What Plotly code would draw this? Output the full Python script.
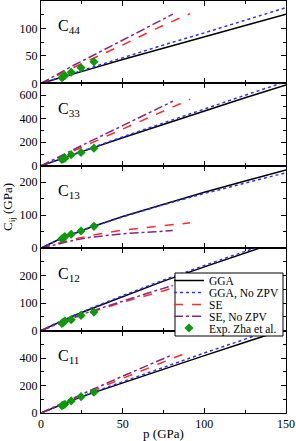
import plotly.graph_objects as go
from plotly.subplots import make_subplots

# ---- data ----
p_gga = [0, 10, 20, 30, 50, 75, 100, 125, 150]
p_se = [0, 10, 20, 30, 50, 75, 91.3]
p_se_nozpv = [0, 10, 20, 30, 50, 70, 80.7]
p_exp = [12.8, 13.6, 14.6, 18.5, 24.5, 32.4]

labels = ["C<sub>44</sub>", "C<sub>33</sub>", "C<sub>13</sub>", "C<sub>12</sub>", "C<sub>11</sub>"]

gga = {
    "C44": [0, 9, 17.5, 26, 43.5, 64.5, 85, 105.5, 126],
    "C33": [0, 49, 97, 144, 238, 352, 468, 578, 687],
    "C13": [0, 24, 44, 63, 96, 134, 170, 204, 237],
    "C12": [0, 28, 54, 78, 124, 180, 232, 283, 333],
    "C11": [0, 50, 96, 139, 220, 320, 418, 515, 612],
}
gga_nozpv = {
    "C44": [0, 9.5, 19, 28, 47, 70, 92, 115, 138],
    "C33": [0, 50, 100, 149, 246, 364, 484, 600, 715],
    "C13": [0, 24, 44, 63, 95, 132, 166, 198, 229],
    "C12": [0, 29, 55, 80, 127, 184, 237, 289, 340],
    "C11": [0, 51, 99, 144, 229, 334, 437, 538, 638],
}
se = {
    "C44": [0, 15, 29, 43, 70, 106, 127],
    "C33": [0, 64, 127, 189, 312, 466, 565],
    "C13": [0, 15, 27, 38, 55, 69, 77],
    "C12": [0, 24, 46, 66, 103, 145, 175],
    "C11": [0, 52, 103, 153, 252, 373, 449],
}
se_nozpv = {
    "C44": [0, 17, 33, 48, 79, 110, 126],
    "C33": [0, 70, 139, 207, 341, 474, 548],
    "C13": [0, 13, 24, 33, 44, 50, 54],
    "C12": [0, 25, 48, 69, 108, 145, 164],
    "C11": [0, 56, 110, 163, 268, 370, 425],
}
exp = {
    "C44": [10.3, 12, 14.4, 20.4, 28.3, 39.2],
    "C33": [54, 58, 65, 94, 113, 150],
    "C13": [28.3, 31, 35.2, 42.2, 52.4, 66.3],
    "C12": [26.4, 30, 34.7, 39.8, 55.3, 67.3],
    "C11": [53, 58, 64, 88, 119, 152],
}
keys = ["C44", "C33", "C13", "C12", "C11"]
y_ranges = [[0, 150], [0, 700], [0, 250], [0, 300], [0, 600]]
y_ticks = [[0, 50, 100], [0, 200, 400, 600], [0, 100, 200], [0, 100, 200], [0, 200, 400]]
y_minor = [25, 100, 50, 50, 100]
x_ticks = [0, 50, 100, 150]

FONT = "Liberation Serif"
W, H = 296, 441
ML, MR, MT, MB = 41, 10, 1, 28
PW, PH = W - ML - MR, H - MT - MB


def px_to_paper_y(py):
    return 1 - (py - MT) / PH


def px_to_paper_x(px):
    return (px - ML) / PW


fig = make_subplots(rows=5, cols=1, shared_xaxes=True, vertical_spacing=0)

series = [
    ("GGA", p_gga, gga, dict(color="black", width=1.5), "legend"),
    ("GGA, No ZPV", p_gga, gga_nozpv, dict(color="#3030ff", width=1.5, dash="dot"), "legend2"),
    ("SE", p_se, se, dict(color="#ff2a2a", width=1.5, dash="dash"), "legend3"),
    ("SE, No ZPV", p_se_nozpv, se_nozpv, dict(color="#852585", width=1.5, dash="dashdot"), "legend4"),
]

for i, k in enumerate(keys):
    r = i + 1
    show = (i == 0)
    for name, xs, d, ln, lg in series:
        fig.add_trace(go.Scatter(x=xs, y=d[k], mode="lines", name=name, line=ln,
                                 showlegend=show, legend=lg), row=r, col=1)
    fig.add_trace(go.Scatter(x=p_exp, y=exp[k], mode="markers", name="Exp. Zha et al.",
                             marker=dict(color="#0a9a0a", symbol="diamond", size=7),
                             showlegend=show, legend="legend5"), row=r, col=1)

    fig.update_yaxes(row=r, col=1, range=y_ranges[i], tickvals=y_ticks[i], automargin=False,
                     ticks="inside", ticklen=5, tickwidth=1, tickcolor="black",
                     showline=True, linecolor="black", linewidth=1, mirror="ticks",
                     showgrid=False, zeroline=False,
                     minor=dict(ticks="inside", ticklen=3, dtick=y_minor[i], tick0=0, tickcolor="black", showgrid=False),
                     tickfont=dict(family=FONT, size=12, color="black"))
    fig.update_xaxes(row=r, col=1, range=[0, 150], tickvals=x_ticks, automargin=False,
                     ticks="inside", ticklen=5, tickwidth=1, tickcolor="black",
                     showline=True, linecolor="black", linewidth=1, mirror="ticks",
                     showgrid=False, zeroline=False,
                     minor=dict(ticks="inside", ticklen=3, dtick=25, tick0=0, tickcolor="black", showgrid=False),
                     tickfont=dict(family=FONT, size=12, color="black"))
    dom = fig.layout["yaxis" + ("" if r == 1 else str(r))].domain
    fig.add_annotation(text=labels[i], xref="paper", yref="paper", x=0.06, y=dom[1] - 0.035,
                       xanchor="left", yanchor="top", showarrow=False,
                       font=dict(family=FONT, size=16, color="black"))

fig.update_xaxes(row=5, col=1, title=dict(text="p (GPa)", font=dict(family=FONT, size=13, color="black"), standoff=1))
fig.update_yaxes(row=3, col=1, title=dict(text="C<sub>ij</sub> (GPa)", font=dict(family=FONT, size=13, color="black"), standoff=5))

# legend box
box_l, box_r, box_t, box_b = 175, 283, 273, 336
fig.add_shape(type="rect", xref="paper", yref="paper", layer="above",
              x0=px_to_paper_x(box_l), x1=px_to_paper_x(box_r),
              y0=px_to_paper_y(box_b), y1=px_to_paper_y(box_t),
              fillcolor="white", line=dict(color="black", width=1))

item_centers = [280.5, 292.5, 304.5, 316.3, 328]
legend_x = px_to_paper_x(169)
leg_common = dict(xanchor="left", yanchor="middle", bgcolor="rgba(0,0,0,0)", borderwidth=0,
                  font=dict(family=FONT, size=11.5, color="black"), itemwidth=30)
lay = {}
for j, lg in enumerate(["legend", "legend2", "legend3", "legend4", "legend5"]):
    lay[lg] = dict(x=legend_x, y=px_to_paper_y(item_centers[j]), **leg_common)

fig.update_layout(
    width=W, height=H,
    margin=dict(l=ML, r=MR, t=MT, b=MB, autoexpand=False),
    paper_bgcolor="white", plot_bgcolor="white",
    font=dict(family=FONT, size=12, color="black"),
    **lay,
)

fig.write_html("out.html", config={"displayModeBar": False},
               post_script="document.body.style.margin='0';document.body.style.overflow='hidden';")
